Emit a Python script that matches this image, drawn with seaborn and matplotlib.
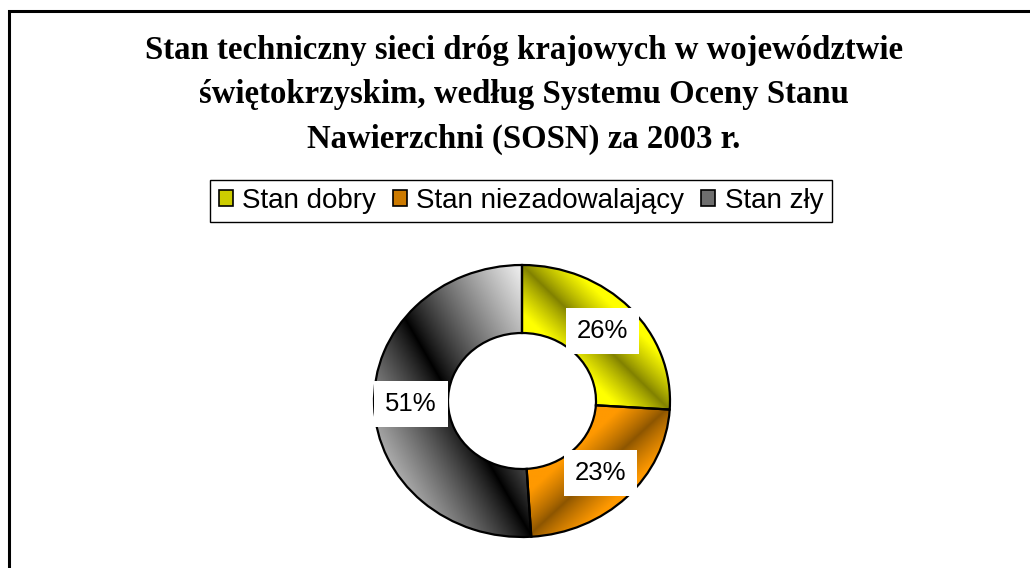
import numpy as np
import matplotlib
matplotlib.use("Agg")
import matplotlib.pyplot as plt
import seaborn as sns
from matplotlib.patches import Rectangle, Patch

# ---- data ----
categories = ["Stan dobry", "Stan niezadowalający", "Stan zły"]
shares = [26, 23, 51]
title_lines = [
    "Stan techniczny sieci dróg krajowych w województwie",
    "świętokrzyskim, według Systemu Oceny Stanu",
    "Nawierzchni (SOSN) za 2003 r.",
]

# ---- styles ----
light = ["#FFFF00", "#FF9900", "#FFFFFF"]
dark = ["#808000", "#8C5500", "#000000"]
legend_colors = ["#CCCC00", "#CC7A00", "#6E6E6E"]
diag = ["main", "anti", "main"]
spread = [0.33, 0.33, 1.0]

sns.set_theme(style="white")
plt.rcParams["font.family"] = ["Liberation Sans", "DejaVu Sans"]
plt.rcParams["text.color"] = "black"

W, H = 1030, 568
fig = plt.figure(figsize=(W / 100, H / 100), dpi=100)
fig.patch.set_facecolor("white")

ax = fig.add_axes([374 / W, (H - 537) / H, 296 / W, 272 / H])
wedges, texts, autotexts = ax.pie(
    shares, startangle=90, counterclock=False, colors=light,
    autopct="%1.0f%%", pctdistance=0.75, radius=1,
    wedgeprops=dict(width=0.5, edgecolor="black", linewidth=1.6),
    textprops=dict(fontsize=18.5, color="black"),
)

for w, lc, dc, dg, sp in zip(wedges, light, dark, diag, spread):
    ext = w.get_path().get_extents()
    n = 240
    u = np.linspace(0, 1, n)[None, :]
    v = np.linspace(0, 1, n)[:, None]
    if dg == "main":
        d = np.abs(u - v)
    else:
        d = np.abs(u + v - 1)
    t = np.clip(d / sp, 0, 1) ** 0.85
    lc_rgb = np.array(matplotlib.colors.to_rgb(lc))
    dc_rgb = np.array(matplotlib.colors.to_rgb(dc))
    arr = dc_rgb[None, None, :] + (lc_rgb - dc_rgb)[None, None, :] * t[:, :, None]
    img = ax.imshow(arr, extent=[ext.x0, ext.x1, ext.y0, ext.y1], origin="upper",
                    interpolation="bilinear", aspect="auto", zorder=0.5)
    img.set_clip_path(w)
    w.set_facecolor("none")
    w.set_zorder(1)

for t in autotexts:
    t.set_zorder(5)
    t.set_bbox(dict(facecolor="white", edgecolor="none", boxstyle="square,pad=0.42"))

ax.set_aspect("auto")
ax.set_xlim(-1, 1)
ax.set_ylim(-1, 1)
ax.axis("off")

fig.text(524 / W, 1 - 35 / H, "\n".join(title_lines), ha="center", va="top",
         fontsize=23.6, fontweight="bold", color="black",
         family=["Liberation Serif", "DejaVu Serif"], linespacing=1.56)

handles = [Patch(facecolor=c, edgecolor="black", linewidth=1.2) for c in legend_colors]
leg = fig.legend(handles=handles, labels=categories, loc="center",
                 bbox_to_anchor=(521 / W, 1 - 201 / H), ncol=3, frameon=True,
                 fancybox=False, edgecolor="black", framealpha=1, fontsize=20,
                 handlelength=0.5, handleheight=0.5, handletextpad=0.35,
                 columnspacing=0.6, borderpad=0.3)
leg.get_frame().set_linewidth(1.0)

fig.add_artist(Rectangle((8.5 / W, -0.05), 1.1, 1 - 10.5 / H + 0.05, transform=fig.transFigure,
                         fill=False, linewidth=2.2, edgecolor="black"))

fig.savefig("out.png", dpi=100)
